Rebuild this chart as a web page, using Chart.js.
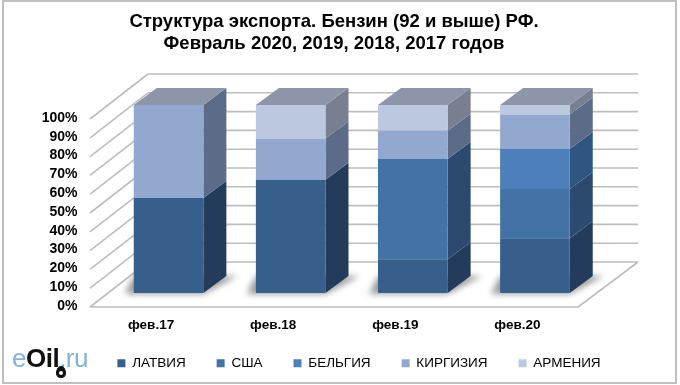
<!DOCTYPE html>
<html lang="ru">
<head>
  <meta charset="UTF-8" />
  <title>Структура экспорта</title>
  <script src="https://cdn.jsdelivr.net/npm/chart.js"></script>
  <style>
    html, body { margin: 0; background: #fff; overflow: hidden; }
    #wrap { position: relative; width: 680px; height: 385px; }
    #frame { position: absolute; left: 2px; top: 0; width: 671px; height: 380px; border: 2px solid #bfbfbf; pointer-events: none; }
    #logo { position: absolute; left: 12px; top: 343px; font: 26px "Liberation Sans", Arial, sans-serif; letter-spacing: -0.5px; color: #7fb4dc; }
    #logo b { color: #111; }
    #drop { position: absolute; left: 56px; top: 366px; width: 8px; height: 10px; background: #111; border: 1px solid #111; border-radius: 50% 50% 50% 50% / 65% 65% 40% 40%; }
    #drop::after { content: ""; position: absolute; left: 2px; top: 4px; width: 4px; height: 4px; background: #fff; border-radius: 50%; }
  </style>
</head>
<body>
  <div id="wrap">
    <canvas id="chart" width="680" height="385"></canvas>
    <div id="frame"></div>
    <div id="logo">e<b>Oil</b>.ru</div>
    <div id="drop"></div>
  </div>

  <script>
    const categories = ['фев.17', 'фев.18', 'фев.19', 'фев.20'];
    const seriesNames = ['ЛАТВИЯ', 'США', 'БЕЛЬГИЯ', 'КИРГИЗИЯ', 'АРМЕНИЯ'];
    const latvia = [50.5, 60.3, 17.9, 29.1];
    const usa = [0, 0, 53.4, 26.2];
    const belgium = [0, 0, 0, 21.3];
    const kyrgyzstan = [49.5, 21.9, 15.0, 18.4];
    const armenia = [0, 17.8, 13.7, 5.0];
    const seriesValues = [latvia, usa, belgium, kyrgyzstan, armenia];
    const frontColors = ['#375f8c', '#4372a6', '#4d7fbb', '#93a8cf', '#bbc8e0'];
    const sideColors = ['#243c5c', '#2c4a6f', '#2f5680', '#5c6b87', '#777f90'];
    const topColor = '#8d96a8';
    const titleLines = ['Структура экспорта. Бензин (92 и выше) РФ.', 'Февраль 2020, 2019, 2018, 2017 годов'];

    // how far the bar back edge sits from its front face
    const barDepth = { x: 23, y: -17 };
    const wallColor = '#bdbdbd';

    function quad(ctx, pts, fill) {
      ctx.beginPath();
      pts.forEach((p, i) => i ? ctx.lineTo(p[0], p[1]) : ctx.moveTo(p[0], p[1]));
      ctx.closePath();
      ctx.fillStyle = fill;
      ctx.fill();
    }

    function line(ctx, x1, y1, x2, y2) {
      ctx.beginPath();
      ctx.moveTo(x1, y1);
      ctx.lineTo(x2, y2);
      ctx.stroke();
    }

    // moves title and legend to where the original has them, the layout box
    // model of Chart.js cant offset these on its own
    const nudge = {
      id: 'nudge',
      afterLayout(chart) {
        chart.titleBlock.left += 36;
        chart.titleBlock.right += 36;
        chart.legend.left += 61;
        chart.legend.right += 61;
        chart.legend.top -= 11;
        chart.legend.bottom -= 11;
      }
    };

    const walls = {
      id: 'walls',
      beforeDatasetsDraw(chart) {
        const { ctx, chartArea: a, scales: { y } } = chart;
        const backL = a.left + 40.5, backR = a.right + 42;
        const frontL = a.left - 17.5, frontR = a.right - 18;
        const backDy = -31, frontDy = 14;
        ctx.save();
        ctx.strokeStyle = wallColor;
        ctx.lineWidth = 1.6;
        y.ticks.forEach(t => {
          const py = y.getPixelForValue(t.value);
          line(ctx, frontL, py + frontDy, backL, py + backDy);
          line(ctx, backL, py + backDy, backR, py + backDy);
        });
        const zero = y.getPixelForValue(0);
        line(ctx, frontL, zero + frontDy, frontR, zero + frontDy);
        line(ctx, frontR, zero + frontDy, backR, zero + backDy);

        // soft shadow on the floor
        ctx.filter = 'blur(3px)';
        chart.getDatasetMeta(0).data.forEach(b => {
          const l = b.x - b.width / 2, r = b.x + b.width / 2;
          quad(ctx, [[l - 9, b.base + 1], [r, b.base + 1], [r + barDepth.x + 11, b.base + barDepth.y], [l, b.base + barDepth.y]], '#9a9a9a');
        });
        ctx.filter = 'none';

        // side and top faces of the bars
        categories.forEach((c, i) => {
          let top = null;
          seriesValues.forEach((vals, ds) => {
            if (!vals[i]) return;
            const b = chart.getDatasetMeta(ds).data[i];
            const r = b.x + b.width / 2;
            quad(ctx, [[r, b.y], [r + barDepth.x, b.y + barDepth.y], [r + barDepth.x, b.base + barDepth.y], [r, b.base]], sideColors[ds]);
            top = b;
          });
          const l = top.x - top.width / 2, r = top.x + top.width / 2;
          quad(ctx, [[l, top.y], [r, top.y], [r + barDepth.x, top.y + barDepth.y], [l + barDepth.x, top.y + barDepth.y]], topColor);
        });
        ctx.restore();
      }
    };

    new Chart(document.getElementById('chart'), {
      type: 'bar',
      data: {
        labels: categories,
        datasets: seriesNames.map((name, i) => ({
          label: name,
          data: seriesValues[i],
          backgroundColor: frontColors[i],
          categoryPercentage: 1,
          barPercentage: 0.57
        }))
      },
      options: {
        responsive: false,
        animation: false,
        layout: { padding: { left: 0, top: 0, right: 84, bottom: -6 } },
        plugins: {
          tooltip: { enabled: false },
          title: {
            display: true,
            text: titleLines,
            color: '#000',
            font: { family: '"Liberation Sans", Arial, sans-serif', size: 18.5, weight: 'bold', lineHeight: 1.2 },
            padding: { top: 11, bottom: 49.6 }
          },
          legend: {
            position: 'bottom',
            labels: {
              color: '#000',
              boxWidth: 8,
              boxHeight: 8,
              padding: 31,
              font: { family: '"Liberation Sans", Arial, sans-serif', size: 13.5 }
            }
          }
        },
        scales: {
          x: {
            stacked: true,
            grid: { display: false, drawTicks: false },
            border: { display: false },
            ticks: {
              color: '#000',
              padding: 24,
              labelOffset: -17.5,
              maxRotation: 0,
              font: { family: '"Liberation Sans", Arial, sans-serif', size: 13.5, weight: 'bold' }
            },
            afterFit(scale) { scale.height = 43.5; }
          },
          y: {
            stacked: true,
            min: 0,
            max: 100,
            grid: { display: false, drawTicks: false },
            border: { display: false },
            ticks: {
              stepSize: 10,
              autoSkip: false,
              color: '#000',
              padding: 30,
              labelOffset: 13,
              callback: v => v + '%',
              font: { family: '"Liberation Sans", Arial, sans-serif', size: 14, weight: 'bold' }
            },
            afterFit(scale) { scale.width = 107.5; }
          }
        }
      },
      plugins: [nudge, walls]
    });
  </script>
</body>
</html>
